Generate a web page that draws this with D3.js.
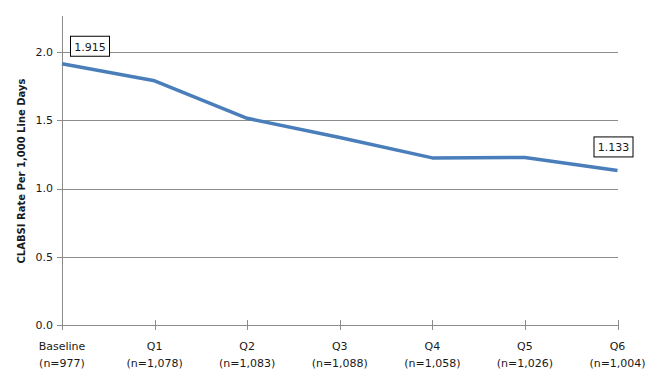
<!DOCTYPE html>
<html>
<head>
<meta charset="utf-8">
<script src="https://cdn.jsdelivr.net/npm/d3@7"></script>
<style>
  body { margin: 0; background: #fff; }
  text { font-family: "DejaVu Sans", Verdana, sans-serif; fill: #1a1a1a; }
</style>
</head>
<body>
<div class="chart"></div>
<script>
const categories = ['Baseline', 'Q1', 'Q2', 'Q3', 'Q4', 'Q5', 'Q6'];
const counts = ['(n=977)', '(n=1,078)', '(n=1,083)', '(n=1,088)', '(n=1,058)', '(n=1,026)', '(n=1,004)'];
const rates = [1.915, 1.79, 1.515, 1.375, 1.225, 1.228, 1.133];
const yTicks = [0, 0.5, 1.0, 1.5, 2.0];
const labelled = [0, 6];

const width = 665;
const height = 386;
const margin = { top: 16, right: 47, bottom: 61, left: 62 };

const chart_width = width - margin.left - margin.right;
const chart_height = height - margin.top - margin.bottom;

const svg = d3
  .select('.chart')
  .append('svg')
  .attr('width', width)
  .attr('height', height);

const g = svg
  .append('g')
  .attr('transform', 'translate(' + margin.left + ',' + margin.top + ')');

const x = d3.scalePoint().domain(categories).range([0, chart_width - 0.5]);
const y = d3.scaleLinear().domain([0, 2.265]).range([chart_height, 0]);

// gridlines
g.append('g')
  .selectAll('line')
  .data(yTicks.slice(1))
  .enter()
  .append('line')
  .attr('x1', 0)
  .attr('x2', chart_width)
  .attr('y1', d => Math.round(y(d)) + 0.5)
  .attr('y2', d => Math.round(y(d)) + 0.5)
  .attr('stroke', '#8c8c8c');

// y axis
g.append('line')
  .attr('x1', 0.5).attr('x2', 0.5)
  .attr('y1', 0).attr('y2', Math.round(chart_height) + 0.5)
  .attr('stroke', '#8c8c8c');

g.append('g')
  .selectAll('line')
  .data(yTicks)
  .enter()
  .append('line')
  .attr('x1', -5).attr('x2', 0)
  .attr('y1', d => Math.round(y(d)) + 0.5)
  .attr('y2', d => Math.round(y(d)) + 0.5)
  .attr('stroke', '#8c8c8c');

g.append('g')
  .selectAll('text')
  .data(yTicks)
  .enter()
  .append('text')
  .attr('x', -9)
  .attr('y', d => y(d))
  .attr('dy', '0.35em')
  .attr('text-anchor', 'end')
  .style('font-size', '11px')
  .text(d => d.toFixed(1));

// x axis
g.append('line')
  .attr('x1', 0).attr('x2', chart_width)
  .attr('y1', Math.round(chart_height) + 0.5)
  .attr('y2', Math.round(chart_height) + 0.5)
  .attr('stroke', '#8c8c8c');

g.append('g')
  .selectAll('line')
  .data(categories)
  .enter()
  .append('line')
  .attr('x1', d => Math.round(x(d)) + 0.5)
  .attr('x2', d => Math.round(x(d)) + 0.5)
  .attr('y1', Math.round(chart_height) - 5)
  .attr('y2', Math.round(chart_height) + 5)
  .attr('stroke', '#8c8c8c');

const xl = g.append('g')
  .selectAll('text')
  .data(categories)
  .enter()
  .append('text')
  .attr('text-anchor', 'middle')
  .style('font-size', '11px')
  .attr('transform', d => 'translate(' + x(d) + ',' + (chart_height + 25) + ')');

xl.append('tspan').attr('x', 0).attr('y', 0).text(d => d);
xl.append('tspan').attr('x', 0).attr('y', 17).text((d, i) => counts[i]);

// axis title
svg.append('text')
  .attr('transform', 'translate(21,171) rotate(-90)')
  .attr('text-anchor', 'middle')
  .attr('dy', '0.35em')
  .style('font-size', '10px')
  .style('font-weight', 'bold')
  .text('CLABSI Rate Per 1,000 Line Days');

// line
const line = d3.line()
  .x((d, i) => x(categories[i]))
  .y(d => y(d));

g.append('path')
  .datum(rates)
  .attr('d', line)
  .attr('fill', 'none')
  .attr('stroke', '#4a7ebb')
  .attr('stroke-width', 3.5)
  .attr('stroke-linejoin', 'round');

// data labels
labelled.forEach(i => {
  const cx = x(categories[i]) + (i === 0 ? 28 : -4);
  const cy = y(rates[i]) - (i === 0 ? 17 : 23);
  const lab = g.append('g').attr('transform', 'translate(' + cx + ',' + cy + ')');
  lab.append('rect')
    .attr('x', -19.5).attr('y', -10.5)
    .attr('width', 39).attr('height', 20)
    .attr('fill', '#fff')
    .attr('stroke', '#000');
  lab.append('text')
    .attr('text-anchor', 'middle')
    .attr('dy', '0.35em')
    .style('font-size', '11px')
    .text(rates[i].toFixed(3));
});
</script>
</body>
</html>
